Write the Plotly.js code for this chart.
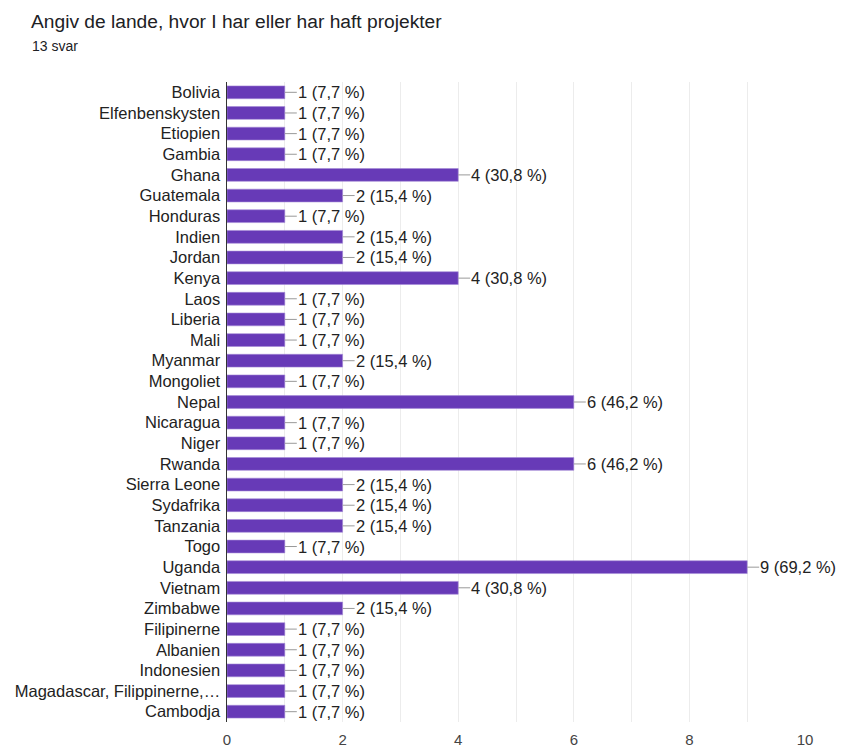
<!DOCTYPE html>
<html>
<head>
<meta charset="utf-8">
<script src="https://cdn.plot.ly/plotly-3.0.1.min.js"></script>
<style>
  html, body { margin: 0; padding: 0; background: #fff; }
  #chart { width: 842px; height: 749px; }
</style>
</head>
<body>
<div id="chart"></div>
<script>
// Survey answers: countries where projects are or have been run
const countries = [
  "Bolivia", "Elfenbenskysten", "Etiopien", "Gambia", "Ghana", "Guatemala",
  "Honduras", "Indien", "Jordan", "Kenya", "Laos", "Liberia", "Mali",
  "Myanmar", "Mongoliet", "Nepal", "Nicaragua", "Niger", "Rwanda",
  "Sierra Leone", "Sydafrika", "Tanzania", "Togo", "Uganda", "Vietnam",
  "Zimbabwe", "Filipinerne", "Albanien", "Indonesien",
  "Magadascar, Filippinerne,…", "Cambodja"
];
const counts = [
  1, 1, 1, 1, 4, 2,
  1, 2, 2, 4, 1, 1, 1,
  2, 1, 6, 1, 1, 6,
  2, 2, 2, 1, 9, 4,
  2, 1, 1, 1,
  1, 1
];
const totalResponses = 13;
const xTicks = [0, 2, 4, 6, 8, 10];

function pctLabel(n) {
  const p = (n / totalResponses * 100).toFixed(1).replace(".", ",");
  return n + " (" + p + " %)";
}

const labelFont = { family: "Arial, 'Liberation Sans', sans-serif", size: 16.5, color: "#222" };

const annotations = countries.map((c, i) => ({
  x: counts[i], y: c, xref: "x", yref: "y",
  text: pctLabel(counts[i]),
  showarrow: true, arrowhead: 0, arrowwidth: 1, arrowcolor: "#999",
  ax: 12, ay: 0, standoff: 0, startstandoff: 0,
  xanchor: "left", yanchor: "middle",
  borderpad: 0,
  font: labelFont
}));

annotations.push({
  xref: "paper", yref: "paper",
  x: (30 - 227) / 578, y: 1 + (82 - 46) / 640,
  text: totalResponses + " svar",
  showarrow: false, xanchor: "left", yanchor: "middle",
  font: { family: "Arial, 'Liberation Sans', sans-serif", size: 14, color: "#202124" }
});

const trace = {
  type: "bar",
  orientation: "h",
  x: counts,
  y: countries,
  marker: { color: "#673ab7", line: { color: "#a48ad6", width: 0.6 } },
  hoverinfo: "none"
};

const layout = {
  width: 842, height: 749,
  margin: { l: 227, r: 37, t: 82, b: 27 },
  paper_bgcolor: "#fff", plot_bgcolor: "#fff",
  showlegend: false,
  bargap: 0.38,
  title: {
    text: "Angiv de lande, hvor I har eller har haft projekter",
    x: 31 / 842, xref: "container", xanchor: "left",
    y: 1 - 21 / 749, yref: "container", yanchor: "middle",
    font: { family: "Arial, 'Liberation Sans', sans-serif", size: 19.2, color: "#202124" }
  },
  xaxis: {
    range: [0, 10],
    tickvals: xTicks,
    ticktext: xTicks.map(String),
    showgrid: true, gridcolor: "#ececec", gridwidth: 1,
    minor: { dtick: 1, showgrid: true, gridcolor: "#ececec", gridwidth: 1 },
    zeroline: false, showline: false, ticks: "",
    ticklabelstandoff: 7,
    tickfont: { family: "Arial, 'Liberation Sans', sans-serif", size: 15, color: "#444" },
    fixedrange: true
  },
  yaxis: {
    type: "category",
    autorange: "reversed",
    showgrid: false, zeroline: false,
    showline: true, linecolor: "#333", linewidth: 1.5,
    ticks: "", ticklabelstandoff: 2,
    tickfont: labelFont,
    fixedrange: true
  },
  annotations: annotations
};

Plotly.newPlot("chart", [trace], layout, { displayModeBar: false, staticPlot: true });
</script>
</body>
</html>
